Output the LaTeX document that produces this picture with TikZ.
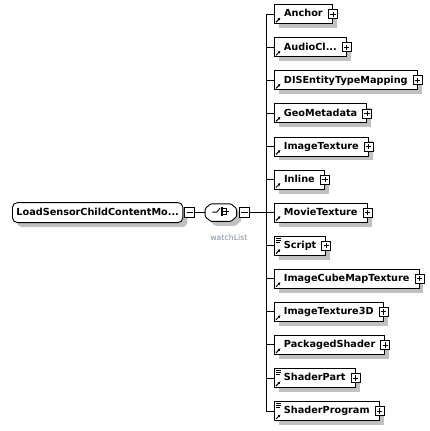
\documentclass[tikz,border=0pt]{standalone}
\usepackage{fontspec}
\setmainfont{DejaVu Sans}
\usepackage{tikz}
\usetikzlibrary{shapes,arrows,arrows.meta,positioning,shadows,backgrounds}
\definecolor{shade}{RGB}{192,192,192}
\definecolor{lbl}{RGB}{128,140,160}
\tikzstyle{box} = [rectangle, draw=black, line width=0.9pt, fill=white, anchor=west, minimum height=19pt, inner xsep=9.5pt, inner ysep=0pt, text height=7.5pt, text depth=2pt, font=\bfseries\fontsize{9.7}{12}\selectfont, drop shadow={shadow xshift=4.5pt, shadow yshift=-4.5pt, fill=shade, opacity=1}]
\tikzstyle{elem} = [box, path picture={\draw[line width=1pt, -{Latex[length=2.5pt,width=3pt]}] ([shift={(1.5pt,1.5pt)}]path picture bounding box.south west) -- ++(4.5pt,4.5pt);}]
\tikzstyle{docelem} = [box, path picture={\draw[line width=1pt, -{Latex[length=2.5pt,width=3pt]}] ([shift={(1.5pt,1.5pt)}]path picture bounding box.south west) -- ++(4.5pt,4.5pt);
  \draw[line width=0.7pt] ([shift={(2pt,-1.8pt)}]path picture bounding box.north west) -- ++(5pt,0pt);
  \draw[line width=0.7pt] ([shift={(2pt,-3.8pt)}]path picture bounding box.north west) -- ++(5pt,0pt);
  \draw[line width=0.7pt] ([shift={(2pt,-5.8pt)}]path picture bounding box.north west) -- ++(4pt,0pt);}]
\tikzstyle{root} = [box, rounded corners=5pt, minimum height=20pt, inner xsep=4pt]
\tikzstyle{plus} = [rectangle, draw=black, line width=0.8pt, fill=white, minimum size=9pt, inner sep=0pt, path picture={\draw[line width=0.8pt] ([xshift=1.8pt]path picture bounding box.west) -- ([xshift=-1.8pt]path picture bounding box.east); \draw[line width=0.8pt] ([yshift=-1.8pt]path picture bounding box.north) -- ([yshift=1.8pt]path picture bounding box.south);}]
\tikzstyle{minus} = [rectangle, draw=black, line width=0.8pt, fill=white, minimum size=10pt, inner sep=0pt, path picture={\draw[line width=0.8pt] ([xshift=1.8pt]path picture bounding box.west) -- ([xshift=-1.8pt]path picture bounding box.east);}]
\tikzstyle{seq} = [rectangle, minimum width=31pt, minimum height=17pt, inner sep=0pt, path picture={
  \draw[line width=0.9pt] ([shift={(-8.5pt,0.5pt)}]path picture bounding box.center) -- ([shift={(-4pt,0.5pt)}]path picture bounding box.center) -- ([shift={(-0.8pt,4.5pt)}]path picture bounding box.center);
  \fill ([shift={(0.3pt,3pt)}]path picture bounding box.center) rectangle ++(2.2pt,2.2pt);
  \fill ([shift={(0.3pt,0pt)}]path picture bounding box.center) rectangle ++(2.2pt,2.2pt);
  \fill ([shift={(0.3pt,-3pt)}]path picture bounding box.center) rectangle ++(2.2pt,2.2pt);
  \draw[line width=0.8pt] ([shift={(2.5pt,4.1pt)}]path picture bounding box.center) -- ++(3.5pt,0pt) -- ++(0pt,-6pt) -- ++(-3.5pt,0pt);
  \draw[line width=0.8pt] ([shift={(2.5pt,1.1pt)}]path picture bounding box.center) -- ++(6pt,0pt);}]
\tikzstyle{seqframe} = [draw=black, line width=0.9pt, fill=white, rounded corners=1pt, drop shadow={shadow xshift=4.5pt, shadow yshift=-4.5pt, fill=shade, opacity=1}]
\tikzstyle{tedge} = [draw, line width=0.9pt]

\begin{document}
\begin{tikzpicture}[x=1pt, y=1pt]
\useasboundingbox (0,0) rectangle (430,-431);

% root and compositor ======================

\node[root, minimum width=167pt] (root) at (12,-212.6) {LoadSensorChildContentMo...};
\node[minus, right=1pt of root] (rootminus) {};
\node[seq, right=10pt of rootminus] (seq) {};
\node[minus, right=2.5pt of seq] (seqminus) {};
\node[font=\fontsize{7.8}{10}\selectfont, text=lbl, inner sep=0pt, below=13pt of seq.south, xshift=8pt] (seqlabel) {watchList};
\coordinate[right=16.5pt of seqminus] (bus);

% compositor outline
\begin{scope}[on background layer]
\path[seqframe] ([xshift=5.5pt]seq.north west) -- ([xshift=-5.5pt]seq.north east) -- ([yshift=4pt]seq.east) -- ([yshift=-4pt]seq.east) -- ([xshift=-5.5pt]seq.south east) -- ([xshift=5.5pt]seq.south west) -- ([yshift=-4pt]seq.west) -- ([yshift=4pt]seq.west) -- cycle;
\end{scope}

% children =================================

\node[elem, minimum width=58pt] (anchor) at (274,-14.2) {Anchor};
\node[elem, minimum width=69pt, below=33.07pt of anchor.west, anchor=west] (audioclip) {AudioCl...};
\node[elem, minimum width=140pt, below=33.07pt of audioclip.west, anchor=west] (disentity) {DISEntityTypeMapping};
\node[elem, minimum width=92pt, below=33.07pt of disentity.west, anchor=west] (geometa) {GeoMetadata};
\node[elem, minimum width=92pt, below=33.07pt of geometa.west, anchor=west] (imagetex) {ImageTexture};
\node[elem, minimum width=50pt, below=33.07pt of imagetex.west, anchor=west] (inline) {Inline};
\node[elem, minimum width=92pt, below=33.07pt of inline.west, anchor=west] (movietex) {MovieTexture};
\node[docelem, minimum width=51pt, below=33.07pt of movietex.west, anchor=west] (script) {Script};
\node[elem, minimum width=141pt, below=33.07pt of script.west, anchor=west] (cubemap) {ImageCubeMapTexture};
\node[elem, minimum width=106pt, below=33.07pt of cubemap.west, anchor=west] (imagetex3d) {ImageTexture3D};
\node[elem, minimum width=106pt, below=33.07pt of imagetex3d.west, anchor=west] (packshader) {PackagedShader};
\node[docelem, minimum width=78pt, below=33.07pt of packshader.west, anchor=west] (shaderpart) {ShaderPart};
\node[docelem, minimum width=96pt, below=33.07pt of shaderpart.west, anchor=west] (shaderprog) {ShaderProgram};

% expand boxes
\node[plus] (anchorplus) at (anchor.east) {};
\node[plus] (audioclipplus) at (audioclip.east) {};
\node[plus] (disentityplus) at (disentity.east) {};
\node[plus] (geometaplus) at (geometa.east) {};
\node[plus] (imagetexplus) at (imagetex.east) {};
\node[plus] (inlineplus) at (inline.east) {};
\node[plus] (movietexplus) at (movietex.east) {};
\node[plus] (scriptplus) at (script.east) {};
\node[plus] (cubemapplus) at (cubemap.east) {};
\node[plus] (imagetex3dplus) at (imagetex3d.east) {};
\node[plus] (packshaderplus) at (packshader.east) {};
\node[plus] (shaderpartplus) at (shaderpart.east) {};
\node[plus] (shaderprogplus) at (shaderprog.east) {};

%edges
\path[tedge] (rootminus) -- (seq);
\path[tedge] (seqminus) -- (bus);
\path[tedge] (bus |- anchor.west) -- (bus |- shaderprog.west);

\path[tedge] (bus |- anchor.west) -- (anchor);
\path[tedge] (bus |- audioclip.west) -- (audioclip);
\path[tedge] (bus |- disentity.west) -- (disentity);
\path[tedge] (bus |- geometa.west) -- (geometa);
\path[tedge] (bus |- imagetex.west) -- (imagetex);
\path[tedge] (bus |- inline.west) -- (inline);
\path[tedge] (bus |- movietex.west) -- (movietex);
\path[tedge] (bus |- script.west) -- (script);
\path[tedge] (bus |- cubemap.west) -- (cubemap);
\path[tedge] (bus |- imagetex3d.west) -- (imagetex3d);
\path[tedge] (bus |- packshader.west) -- (packshader);
\path[tedge] (bus |- shaderpart.west) -- (shaderpart);
\path[tedge] (bus |- shaderprog.west) -- (shaderprog);

\end{tikzpicture}
\end{document}
